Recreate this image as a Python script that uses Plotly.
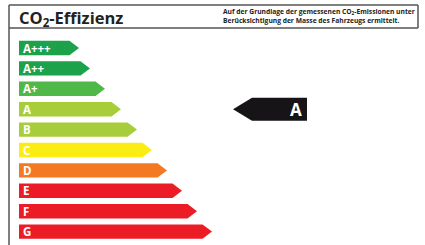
import plotly.graph_objects as go

# ---- data ----
classes = ["A+++", "A++", "A+", "A", "B", "C", "D", "E", "F", "G"]
bar_ends = [79, 90, 105, 121, 137, 152, 167, 182, 197, 212]   # tip position of each class arrow
colors = ["#1ba24b", "#1ba24b", "#50b848", "#a8cd3a", "#a8cd3a",
          "#fbec13", "#f37a22", "#ec1c26", "#ec1c26", "#ec1c26"]
rating = "A"
title_main = "CO<sub>2</sub>-Effizienz"
note_lines = ["Auf der Grundlage der gemessenen CO<sub>2</sub>-Emissionen unter",
              "Berücksichtigung der Masse des Fahrzeugs ermittelt."]

# ---- layout constants ----
W, H = 425, 245
x0 = 19          # left of bars
y_first = 48     # centre of first bar
step = 20.4
half = 7.2
head = 9.5

fig = go.Figure()

for i, (c, end, col) in enumerate(zip(classes, bar_ends, colors)):
    yc = y_first + i * step
    xs = [x0, end - head, end, end - head, x0, x0]
    ys = [yc - half, yc - half, yc, yc + half, yc + half, yc - half]
    fig.add_trace(go.Scatter(x=xs, y=ys, fill="toself", fillcolor=col,
                             line=dict(width=0, color=col), mode="lines",
                             hoverinfo="skip", showlegend=False))
    fig.add_annotation(x=x0 + 2, y=yc, text="<b>%s</b>" % c, showarrow=False,
                       xanchor="left", yanchor="middle",
                       font=dict(family="Open Sans", size=11.5, color="white"))

# rating pointer
ri = classes.index(rating)
yc = y_first + ri * step
px_left, px_body, px_right, ph = 233, 252, 307, 11.5
fig.add_trace(go.Scatter(
    x=[px_left, px_body, px_right, px_right, px_body, px_left],
    y=[yc, yc - ph, yc - ph, yc + ph, yc + ph, yc],
    fill="toself", fillcolor="#161416", line=dict(width=0, color="#161416"),
    mode="lines", hoverinfo="skip", showlegend=False))
fig.add_annotation(x=296, y=yc + 0.5, text="<b>%s</b>" % rating, showarrow=False,
                   xanchor="center", yanchor="middle",
                   font=dict(family="Open Sans", size=17, color="white"))

# header text
fig.add_annotation(x=17, y=17.5, text="<b>%s</b>" % title_main, showarrow=False,
                   xanchor="left", yanchor="middle",
                   font=dict(family="Open Sans", size=16.5, color="#222"))
fig.add_annotation(x=221, y=15.5, text="<b>" + "<br>".join(note_lines) + "</b>",
                   showarrow=False, xanchor="left", yanchor="middle", align="left",
                   font=dict(family="Open Sans", size=6.7, color="#222"))

# frame
lc = dict(color="#555", width=1.5)
shapes = [
    dict(type="line", x0=9, x1=9, y0=5, y1=H + 10, line=lc),
    dict(type="line", x0=9, x1=418, y0=5, y1=5, line=lc),
    dict(type="line", x0=418, x1=418, y0=5, y1=28, line=lc),
    dict(type="line", x0=9, x1=418, y0=28, y1=28, line=lc),
]

fig.update_layout(
    width=W, height=H, margin=dict(l=0, r=0, t=0, b=0),
    paper_bgcolor="white", plot_bgcolor="white", shapes=shapes,
    xaxis=dict(range=[0, W], visible=False, fixedrange=True),
    yaxis=dict(range=[H, 0], visible=False, fixedrange=True),
)
fig.write_html("out.html", config={"displayModeBar": False},
               post_script="document.body.style.margin='0';document.body.style.overflow='hidden';")
